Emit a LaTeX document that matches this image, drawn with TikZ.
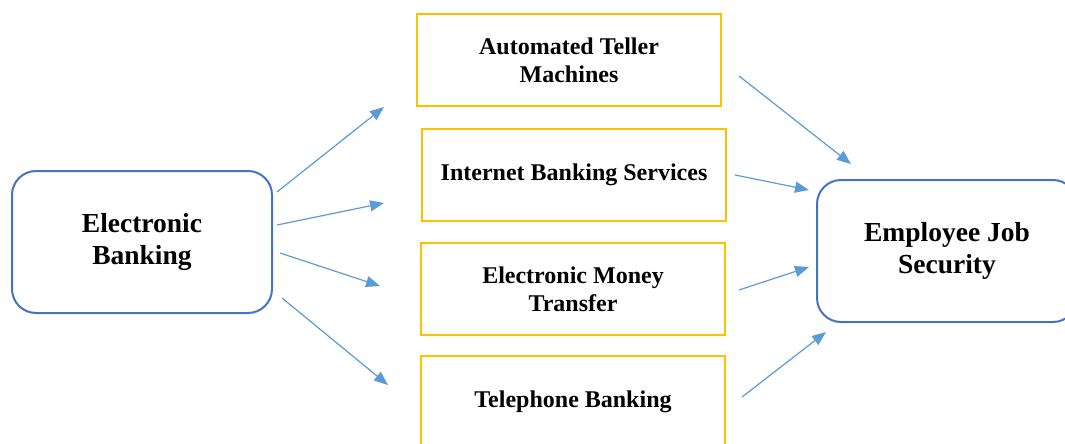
\documentclass[tikz,border=0pt]{standalone}
\usepackage{fontspec}
\setmainfont{Liberation Serif}
\usetikzlibrary{arrows.meta}
\definecolor{boxorange}{HTML}{FFC000}
\definecolor{boxblue}{HTML}{4472C4}
\definecolor{arrblue}{HTML}{5B9BD5}
\begin{document}
\begin{tikzpicture}[x=1pt,y=-1pt,
  mainbox/.style={draw=boxblue, line width=2pt, rounded corners=24pt, minimum width=260pt, minimum height=142pt, inner sep=0pt, align=center, font=\fontsize{27.5}{32}\selectfont\bfseries},
  itembox/.style={draw=boxorange, line width=2pt, minimum width=304pt, minimum height=92pt, inner sep=0pt, align=center, font=\fontsize{24}{28}\selectfont\bfseries},
  conn/.style={draw=arrblue, line width=1.2pt, -{Triangle[length=14pt,width=11pt]}}]
\useasboundingbox (0,0) rectangle (1065,444);
\clip (0,0) rectangle (1065,444);
\node[mainbox] (eb) at (142,242) {Electronic\\Banking};
\node[mainbox] (ejs) at (947,251) {Employee Job\\Security};
\node[itembox] (atm) at (569,60) {Automated Teller\\Machines};
\node[itembox] (ibs) at (574,175) {Internet Banking Services};
\node[itembox] (emt) at (573,289) {Electronic Money\\Transfer};
\node[itembox] (tb) at (573,402) {Telephone Banking};
% left arrows
\coordinate (l1s) at (277,192); \coordinate (l1e) at (384,107);
\coordinate (l2s) at (277,225); \coordinate (l2e) at (384,203);
\coordinate (l3s) at (280,253); \coordinate (l3e) at (380,286);
\coordinate (l4s) at (282,298); \coordinate (l4e) at (388,385);
% right arrows
\coordinate (r1s) at (739,76); \coordinate (r1e) at (851,164);
\coordinate (r2s) at (735,175); \coordinate (r2e) at (809,190);
\coordinate (r3s) at (739,290); \coordinate (r3e) at (809,267);
\coordinate (r4s) at (742,397); \coordinate (r4e) at (826,332);
\draw[conn] (l1s) -- (l1e);
\draw[conn] (l2s) -- (l2e);
\draw[conn] (l3s) -- (l3e);
\draw[conn] (l4s) -- (l4e);
\draw[conn] (r1s) -- (r1e);
\draw[conn] (r2s) -- (r2e);
\draw[conn] (r3s) -- (r3e);
\draw[conn] (r4s) -- (r4e);
\end{tikzpicture}
\end{document}
